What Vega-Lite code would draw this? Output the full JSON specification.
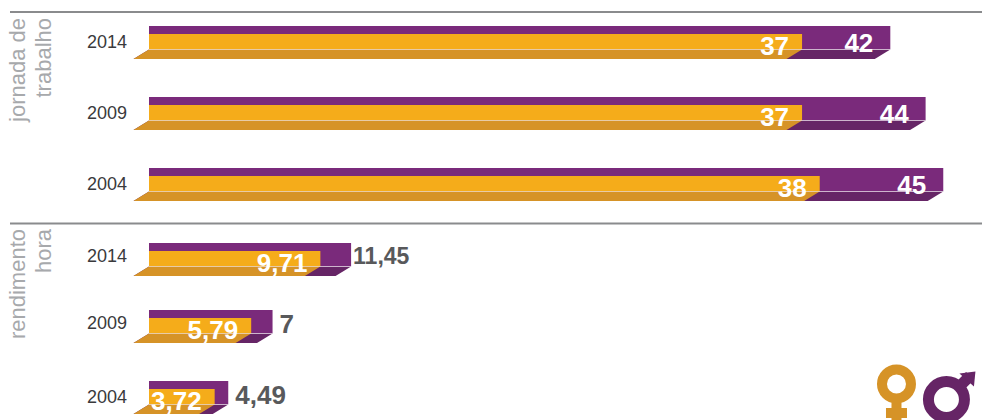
{
"$schema":"https://vega.github.io/schema/vega-lite/v6.json",
"width":982,"height":420,"padding":0,"autosize":"none",
"background":"#ffffff",
"view":{"stroke":null},
"config":{"font":"Liberation Sans"},
"data":{"values":[
{"medida":"jornada","ano":2014,"sexo":"homens","valor":42,"rotulo":"42"},
{"medida":"jornada","ano":2009,"sexo":"homens","valor":44,"rotulo":"44"},
{"medida":"jornada","ano":2004,"sexo":"homens","valor":45,"rotulo":"45"},
{"medida":"rendimento","ano":2014,"sexo":"homens","valor":11.45,"rotulo":"11,45"},
{"medida":"rendimento","ano":2009,"sexo":"homens","valor":7,"rotulo":"7"},
{"medida":"rendimento","ano":2004,"sexo":"homens","valor":4.49,"rotulo":"4,49"},
{"medida":"jornada","ano":2014,"sexo":"mulheres","valor":37,"rotulo":"37"},
{"medida":"jornada","ano":2009,"sexo":"mulheres","valor":37,"rotulo":"37"},
{"medida":"jornada","ano":2004,"sexo":"mulheres","valor":38,"rotulo":"38"},
{"medida":"rendimento","ano":2014,"sexo":"mulheres","valor":9.71,"rotulo":"9,71"},
{"medida":"rendimento","ano":2009,"sexo":"mulheres","valor":5.79,"rotulo":"5,79"},
{"medida":"rendimento","ano":2004,"sexo":"mulheres","valor":3.72,"rotulo":"3,72"}
],"name":"d"},
"layer":[
{"mark":{"type":"rect","color":"#7a2a7b"},
 "transform":[{"calculate":"(datum.medida=='jornada' ? ({'2014':26,'2009':97,'2004':168}) : ({'2014':243,'2009':310,'2004':381}))[''+datum.ano]","as":"base"},{"filter":"datum.sexo=='homens'"},{"calculate":"datum.base+23.5","as":"fundo"},{"calculate":"0","as":"zero"}],
 "encoding":{
  "x":{"field":"zero","type":"quantitative","scale":{"domain":[-8.442,47.195],"range":[0,982],"nice":false,"zero":false},"axis":null},
  "x2":{"field":"valor"},
  "y":{"field":"base","type":"quantitative","scale":{"domain":[0,420],"range":[0,420],"nice":false,"zero":false},"axis":null},
  "y2":{"field":"fundo"}}},
{"mark":{"type":"area","orient":"horizontal","color":"#662566"},
 "transform":[{"calculate":"(datum.medida=='jornada' ? ({'2014':26,'2009':97,'2004':168}) : ({'2014':243,'2009':310,'2004':381}))[''+datum.ano]","as":"base"},{"filter":"datum.sexo=='homens'"},{"calculate":"datum.base+23.5","as":"fundo"},{"calculate":"datum.base+33","as":"frente"},{"fold":["fundo","frente"],"as":["borda","ypos"]},
  {"calculate":"datum.borda=='frente' ? -0.88 : 0","as":"x0"},{"calculate":"datum.valor+datum.x0","as":"x1"},{"calculate":"datum.medida+datum.ano","as":"id"}],
 "encoding":{
  "x":{"field":"x0","type":"quantitative","stack":null},
  "x2":{"field":"x1"},
  "y":{"field":"ypos","type":"quantitative"},
  "detail":{"field":"id"}}},
{"mark":{"type":"rect","color":"#f5ac1a"},
 "transform":[{"calculate":"(datum.medida=='jornada' ? ({'2014':26,'2009':97,'2004':168}) : ({'2014':243,'2009':310,'2004':381}))[''+datum.ano]","as":"base"},{"filter":"datum.sexo=='mulheres'"},{"calculate":"datum.base+8","as":"topo"},{"calculate":"datum.base+23.5","as":"fundo"},{"calculate":"0","as":"zero"}],
 "encoding":{
  "x":{"field":"zero","type":"quantitative"},
  "x2":{"field":"valor"},
  "y":{"field":"topo","type":"quantitative"},
  "y2":{"field":"fundo"}}},
{"mark":{"type":"area","orient":"horizontal","color":"#d69327"},
 "transform":[{"calculate":"(datum.medida=='jornada' ? ({'2014':26,'2009':97,'2004':168}) : ({'2014':243,'2009':310,'2004':381}))[''+datum.ano]","as":"base"},{"filter":"datum.sexo=='mulheres'"},{"calculate":"datum.base+23.5","as":"fundo"},{"calculate":"datum.base+33","as":"frente"},{"fold":["fundo","frente"],"as":["borda","ypos"]},
  {"calculate":"datum.borda=='frente' ? -0.88 : 0","as":"x0"},{"calculate":"datum.valor+datum.x0","as":"x1"},{"calculate":"datum.medida+datum.ano","as":"id"}],
 "encoding":{
  "x":{"field":"x0","type":"quantitative","stack":null},
  "x2":{"field":"x1"},
  "y":{"field":"ypos","type":"quantitative"},
  "detail":{"field":"id"}}},
{"mark":{"type":"rule","color":"#ffffff","strokeWidth":1,"opacity":0.55},
 "transform":[{"calculate":"(datum.medida=='jornada' ? ({'2014':26,'2009':97,'2004':168}) : ({'2014':243,'2009':310,'2004':381}))[''+datum.ano]","as":"base"},{"filter":"datum.sexo=='homens'"},{"calculate":"datum.base+23.5","as":"fundo"},{"calculate":"0","as":"zero"}],
 "encoding":{
  "x":{"field":"zero","type":"quantitative"},
  "x2":{"field":"valor"},
  "y":{"field":"fundo","type":"quantitative"}}},
{"mark":{"type":"text","align":"right","baseline":"middle","dx":-22,"fontSize":18,"color":"#3a3a3c"},
 "transform":[{"calculate":"(datum.medida=='jornada' ? ({'2014':26,'2009':97,'2004':168}) : ({'2014':243,'2009':310,'2004':381}))[''+datum.ano]","as":"base"},{"filter":"datum.sexo=='homens'"},{"calculate":"datum.base+((datum.medida=='jornada'||datum.ano==2004)?17:13.5)","as":"yano"},{"calculate":"0","as":"zero"}],
 "encoding":{
  "x":{"field":"zero","type":"quantitative"},
  "y":{"field":"yano","type":"quantitative"},
  "text":{"field":"ano","type":"nominal"}}},
{"mark":{"type":"text","align":"right","baseline":"middle","dx":-13,"fontSize":26,"fontWeight":"bold","color":"#ffffff"},
 "transform":[{"calculate":"(datum.medida=='jornada' ? ({'2014':26,'2009':97,'2004':168}) : ({'2014':243,'2009':310,'2004':381}))[''+datum.ano]","as":"base"},{"filter":"datum.sexo=='mulheres'"},{"calculate":"datum.base+21","as":"yrot"}],
 "encoding":{
  "x":{"field":"valor","type":"quantitative"},
  "y":{"field":"yrot","type":"quantitative"},
  "text":{"field":"rotulo","type":"nominal"}}},
{"mark":{"type":"text","align":"right","baseline":"middle","dx":-17,"fontSize":26,"fontWeight":"bold","color":"#ffffff"},
 "transform":[{"calculate":"(datum.medida=='jornada' ? ({'2014':26,'2009':97,'2004':168}) : ({'2014':243,'2009':310,'2004':381}))[''+datum.ano]","as":"base"},{"filter":"datum.sexo=='homens' && datum.medida=='jornada'"},{"calculate":"datum.base+17.5","as":"yrot"}],
 "encoding":{
  "x":{"field":"valor","type":"quantitative"},
  "y":{"field":"yrot","type":"quantitative"},
  "text":{"field":"rotulo","type":"nominal"}}},
{"mark":{"type":"text","align":"left","baseline":"middle","dx":7,"fontSize":26,"fontWeight":"bold","color":"#58595b"},
 "transform":[{"calculate":"(datum.medida=='jornada' ? ({'2014':26,'2009':97,'2004':168}) : ({'2014':243,'2009':310,'2004':381}))[''+datum.ano]","as":"base"},{"filter":"datum.sexo=='homens' && datum.medida=='rendimento' && datum.valor<10"},{"calculate":"datum.base+14.5","as":"yrot"}],
 "encoding":{
  "x":{"field":"valor","type":"quantitative"},
  "y":{"field":"yrot","type":"quantitative"},
  "text":{"field":"rotulo","type":"nominal"}}},
{"mark":{"type":"text","align":"left","baseline":"middle","dx":2,"fontSize":23,"fontWeight":"bold","color":"#58595b"},
 "transform":[{"calculate":"(datum.medida=='jornada' ? ({'2014':26,'2009':97,'2004':168}) : ({'2014':243,'2009':310,'2004':381}))[''+datum.ano]","as":"base"},{"filter":"datum.sexo=='homens' && datum.medida=='rendimento' && datum.valor>10"},{"calculate":"datum.base+13.5","as":"yrot"}],
 "encoding":{
  "x":{"field":"valor","type":"quantitative"},
  "y":{"field":"yrot","type":"quantitative"},
  "text":{"field":"rotulo","type":"nominal"}}},
{"data":{"values":[{"inicio":-7.875,"fim":47.195,"nivel":12},{"inicio":-7.875,"fim":47.195,"nivel":223.5}]},
 "mark":{"type":"rule","color":"#8a8b8d","strokeWidth":2},
 "encoding":{"x":{"field":"inicio","type":"quantitative"},"x2":{"field":"fim"},"y":{"field":"nivel","type":"quantitative"}}},
{"data":{"values":[{"t":"jornada de\ntrabalho","px":-7.42,"py":18},{"t":"rendimento\nhora","px":-7.42,"py":229}]},
 "mark":{"type":"text","angle":270,"align":"right","baseline":"middle","fontSize":22,"lineBreak":"\n","lineHeight":26,"color":"#a7a9ac"},
 "encoding":{"x":{"field":"px","type":"quantitative"},"y":{"field":"py","type":"quantitative"},"text":{"field":"t","type":"nominal"}}},
{"data":{"values":[{"px":42.35,"py":384}]},
 "mark":{"type":"point","filled":false,"opacity":1,"strokeWidth":10,"color":"#d69327","size":10000,
  "shape":"M-0.29,0A0.29,0.29 0 1 1 0.29,0A0.29,0.29 0 1 1 -0.29,0Z M0,0.29L0,0.72 M-0.21,0.58L0.21,0.58"},
 "encoding":{"x":{"field":"px","type":"quantitative"},"y":{"field":"py","type":"quantitative"}}},
{"data":{"values":[{"px":45.18,"py":399.5}]},
 "mark":{"type":"point","filled":false,"opacity":1,"strokeWidth":11,"color":"#662566","size":10000,
  "shape":"M-0.36,0A0.36,0.36 0 1 1 0.36,0A0.36,0.36 0 1 1 -0.36,0Z M0.24,-0.24L0.47,-0.47"},
 "encoding":{"x":{"field":"px","type":"quantitative"},"y":{"field":"py","type":"quantitative"}}},
{"data":{"values":[{"px":45.18,"py":399.5}]},
 "mark":{"type":"point","filled":true,"opacity":1,"color":"#662566","size":10000,
  "shape":"M0.58,-0.56L0.26,-0.52L0.55,-0.26Z"},
 "encoding":{"x":{"field":"px","type":"quantitative"},"y":{"field":"py","type":"quantitative"}}}
]
}
